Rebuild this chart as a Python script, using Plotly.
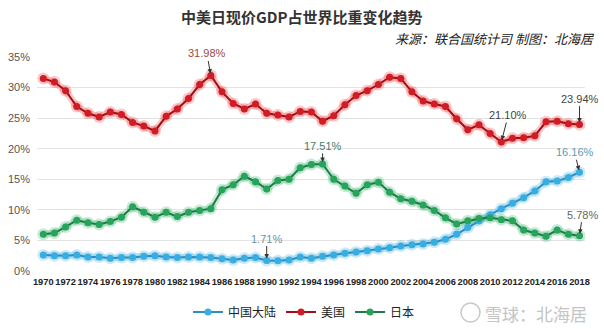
import plotly.graph_objects as go

years = list(range(1970, 2019))

china = [2.6, 2.5, 2.5, 2.6, 2.3, 2.3, 2.1, 2.2, 2.2, 2.4,
         2.5, 2.3, 2.2, 2.3, 2.3, 2.2, 2.0, 1.8, 2.1, 2.2,
         1.71, 1.68, 1.8, 2.3, 2.1, 2.4, 2.6, 2.9, 3.1, 3.3,
         3.6, 3.8, 4.1, 4.3, 4.4, 4.7, 5.2, 6.0, 7.1, 8.2,
         9.2, 10.2, 11.1, 12.0, 13.1, 14.6, 14.7, 15.3, 16.16]

usa = [31.5, 30.9, 29.5, 26.9, 25.8, 25.2, 26.0, 25.6, 24.3, 23.7,
       22.9, 25.3, 26.5, 28.2, 30.5, 31.98, 29.3, 27.4, 26.5, 27.3,
       25.8, 25.5, 25.2, 26.1, 26.0, 24.5, 25.4, 27.2, 28.7, 29.5,
       30.5, 31.7, 31.5, 29.3, 27.8, 27.3, 26.9, 24.9, 23.1, 23.9,
       22.5, 21.10, 21.7, 21.8, 22.1, 24.4, 24.5, 24.1, 23.94]

japan = [6.0, 6.2, 7.2, 8.3, 7.9, 7.6, 8.1, 8.8, 10.5, 9.6,
         8.8, 9.6, 8.9, 9.6, 9.9, 10.2, 13.3, 14.1, 15.5, 14.6,
         13.4, 14.8, 15.0, 16.9, 17.4, 17.51, 15.0, 13.9, 12.7, 14.1,
         14.5, 12.9, 11.8, 11.4, 10.8, 9.9, 8.7, 7.7, 8.2, 8.6,
         8.7, 8.4, 8.2, 6.7, 6.2, 5.7, 6.7, 6.0, 5.78]

names = ["中国大陆", "美国", "日本"]
y_ticks = [0, 5, 10, 15, 20, 25, 30, 35]
y_tick_text = ["0%", "5%", "10%", "15%", "20%", "25%", "30%", "35%"]
x_ticks = list(range(1970, 2019, 2))

# annotations: (year, value, text, ax, ay, color)
notes = [
    (1985, 31.98, "31.98%", -4, -22, "#9a4a45"),
    (2011, 21.10, "21.10%", 7, -27, "#444444"),
    (2018, 23.94, "23.94%", 0, -26, "#444444"),
    (1995, 17.51, "17.51%", 0, -18, "#3f7d6e"),
    (1990, 1.71, "1.71%", 0, -22, "#6a93a8"),
    (2018, 16.16, "16.16%", -5, -20, "#5c9cb3"),
    (2018, 5.78, "5.78%", 3, -21, "#5d6a66"),
]

series = [
    (names[0], china, "#2b8fc4", "#38aee0", "rgba(60,170,225,0.25)", 1),
    (names[1], usa, "#9e0f16", "#d01c26", "rgba(235,40,40,0.25)", 2),
    (names[2], japan, "#1b7d45", "#27a35c", "rgba(40,170,90,0.25)", 3),
]

W, H = 604, 329
ML, MR, MT, MB = 37, 19, 57, 58
pw, ph = W - ML - MR, H - MT - MB


def px_x(px):
    return (px - ML) / pw


def px_y(py):
    return (H - py - MB) / ph


fig = go.Figure()

# glow underlays
for name, vals, lc, mc, gc, rank in series:
    fig.add_trace(go.Scatter(
        x=years, y=vals, mode="lines+markers", showlegend=False, hoverinfo="skip",
        line=dict(color=gc, width=7), marker=dict(color=gc, size=12),
    ))

for name, vals, lc, mc, gc, rank in series:
    fig.add_trace(go.Scatter(
        x=years, y=vals, name=name, mode="lines+markers", legendrank=rank,
        line=dict(color=lc, width=2), marker=dict(color=mc, size=7),
    ))

annotations = []
for yr, v, t, ax, ay, c in notes:
    annotations.append(dict(
        x=yr, y=v, xref="x", yref="y", text=t, showarrow=True,
        ax=ax, ay=ay, arrowhead=2, arrowsize=0.9, arrowwidth=1, arrowcolor="#333333",
        font=dict(size=11, color=c, family="Liberation Sans, Arial, sans-serif"),
        standoff=2,
    ))

annotations.append(dict(
    x=px_x(301), y=px_y(17), xref="paper", yref="paper",
    xanchor="center", yanchor="middle",
    text="<b>中美日现价GDP占世界比重变化趋势</b>",
    showarrow=False, font=dict(size=15, color="#333333", family="Noto Sans CJK SC"),
))
annotations.append(dict(
    x=px_x(597), y=px_y(38), xref="paper", yref="paper",
    xanchor="right", yanchor="middle",
    text="<i>来源：联合国统计司 制图：北海居</i>",
    showarrow=False, font=dict(size=13, color="#222222", family="Noto Sans CJK SC"),
))
annotations.append(dict(
    x=px_x(589), y=px_y(313), xref="paper", yref="paper",
    xanchor="right", yanchor="middle",
    text="雪球：北海居",
    showarrow=False, font=dict(size=17, color="#c4c4c4", family="Noto Sans CJK SC"),
))

fig.update_layout(
    width=W, height=H,
    margin=dict(l=ML, r=MR, t=MT, b=MB, autoexpand=False),
    paper_bgcolor="white", plot_bgcolor="white",
    font=dict(family="Liberation Sans, Arial, sans-serif", color="#333333"),
    annotations=annotations,
    showlegend=True,
    legend=dict(
        orientation="h", xref="container", yref="container",
        x=304 / W, xanchor="center", y=1 - 312 / H, yanchor="middle",
        font=dict(size=12, color="#222222", family="Noto Sans CJK SC"),
        itemwidth=30, tracegroupgap=0, bgcolor="rgba(0,0,0,0)",
    ),
    shapes=[dict(
        type="circle", xref="paper", yref="paper",
        x0=px_x(461), x1=px_x(480),
        y0=px_y(322), y1=px_y(303),
        line=dict(color="#c8c8c8", width=1.5),
    )],
)

fig.update_xaxes(
    range=[1969.44, 2018.49], tickvals=x_ticks,
    ticktext=["<b>%d</b>" % v for v in x_ticks],
    tickangle=0, showgrid=False, zeroline=False, showline=False, ticks="",
    automargin=False,
    tickfont=dict(size=9.3, color="#222222", family="Liberation Sans, Arial, sans-serif"),
    ticklabelstandoff=4,
)
fig.update_yaxes(
    range=[0, 35], tickvals=y_ticks, ticktext=y_tick_text,
    showgrid=True, gridcolor="#e3e3e3", gridwidth=1, zeroline=False, showline=False,
    automargin=False,
    tickfont=dict(size=11, color="#555555"),
    ticklabelstandoff=6,
)

fig.write_html("out.html")
